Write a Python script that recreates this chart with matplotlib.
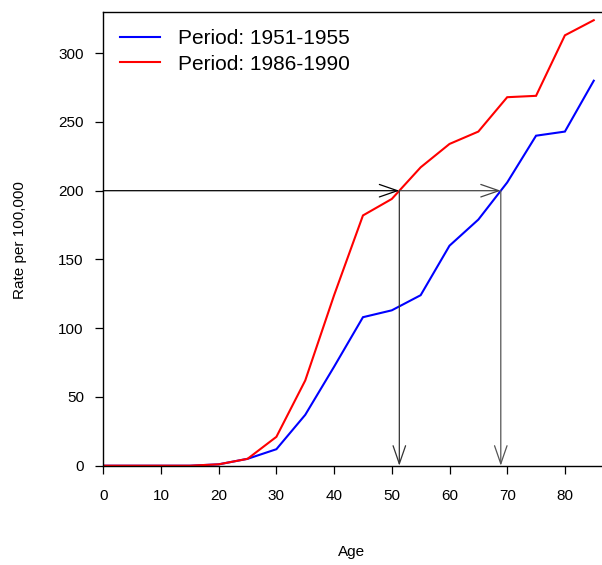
import numpy as np
import matplotlib
matplotlib.use("Agg")
import matplotlib.pyplot as plt

plt.rcParams['font.family'] = ['Liberation Sans', 'DejaVu Sans']

ages = [0, 5, 10, 15, 20, 25, 30, 35, 40, 45, 50, 55, 60, 65, 70, 75, 80, 85]
rate_1951 = [0, 0, 0, 0, 1, 5, 12, 37, 72, 108, 113, 124, 160, 179, 206, 240, 243, 280]
rate_1986 = [0, 0, 0, 0, 1, 5, 21, 62, 124, 182, 194, 217, 234, 243, 268, 269, 313, 324]
label_1951 = "Period: 1951-1955"
label_1986 = "Period: 1986-1990"
ref_rate = 200
xticks = [0, 10, 20, 30, 40, 50, 60, 70, 80]
yticks = [0, 50, 100, 150, 200, 250, 300]

W, H = 602, 565
fig = plt.figure(figsize=(W / 100, H / 100), dpi=100)
left, right, top, bottom = 103.3, 602, 12.3, 465.7
ax = fig.add_axes([left / W, 1 - bottom / H, (right - left) / W, (bottom - top) / H])

ax.plot(ages, rate_1951, color='blue', lw=1.5, label=label_1951, solid_joinstyle='miter')
ax.plot(ages, rate_1986, color='red', lw=1.5, label=label_1986, solid_joinstyle='miter')

ax.set_xlim(0, (right - left) / 5.77)
ax.set_ylim(0, (bottom - top) / 1.375)

# crossing points at the reference rate
x_red = float(np.interp(ref_rate, rate_1986, ages))
x_blue = float(np.interp(ref_rate, rate_1951, ages))

def arrow(x0, y0, x1, y1, color):
    ax.annotate('', xy=(x1, y1), xytext=(x0, y0),
                arrowprops=dict(arrowstyle='->,head_length=1.3,head_width=0.45',
                                lw=0.9, color=color, shrinkA=0, shrinkB=0),
                annotation_clip=False)

arrow(0, ref_rate, x_red, ref_rate, 'black')
arrow(x_red, ref_rate, x_blue, ref_rate, '#444444')
arrow(x_red, ref_rate, x_red, 0, '#333333')
arrow(x_blue, ref_rate, x_blue, 0, '#555555')

ax.spines['right'].set_visible(False)
for s in ['left', 'bottom', 'top']:
    ax.spines[s].set_linewidth(1.0)
    ax.spines[s].set_color('black')

ax.set_xticks(xticks)
ax.set_yticks(yticks)
ax.tick_params(axis='both', direction='out', length=6, width=0.9, labelsize=11, colors='black')
ax.tick_params(axis='x', pad=11)
ax.tick_params(axis='y', pad=8)

fig.text(352 / W, 1 - 552 / H, 'Age', ha='center', va='center', fontsize=11)
fig.text(20 / W, 1 - 240 / H, 'Rate per 100,000', ha='center', va='center', rotation=90, fontsize=11)

ax.legend(loc='upper left', bbox_to_anchor=(120 / W, 1 - 29.5 / H), bbox_transform=fig.transFigure,
          frameon=False, fontsize=15, handlelength=1.92, handletextpad=0.85,
          labelspacing=0.3, borderpad=0, borderaxespad=0)

fig.savefig('out.png', dpi=100)
